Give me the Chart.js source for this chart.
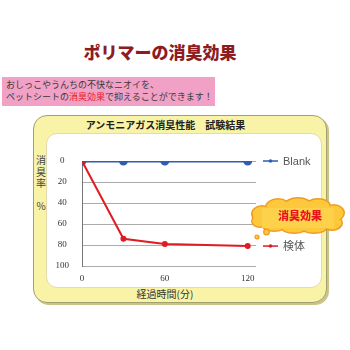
<!DOCTYPE html>
<html><head><meta charset="utf-8">
<script src="https://cdn.jsdelivr.net/npm/chart.js@4"></script>
<style>
html,body{margin:0;padding:0;background:#fff;}
#wrap{position:relative;width:350px;height:350px;overflow:hidden;font-family:"Noto Sans CJK JP","Noto Sans",sans-serif;}
.abs{position:absolute;}
#title{left:0;width:320px;top:38px;text-align:center;font-size:17px;font-weight:900;color:#8e1b1f;letter-spacing:0px;line-height:28px;}
#pink{left:2px;top:77px;width:213px;height:29px;background:#f1a0c6;}
#pink div{position:absolute;left:4px;font-size:9px;color:#3a3a3a;line-height:12px;white-space:nowrap;}
#yellow{left:33px;top:115px;width:292px;height:186px;background:#f8f3a6;border:1.5px solid #a3a070;border-radius:14px;box-shadow:2px 2px 0 #c9c58a;}
#inner{left:46px;top:133px;width:274px;height:153px;background:#fff;border:1px solid #e3dcb0;border-radius:11px;}
#ctitle{left:33px;width:265px;top:117px;text-align:center;font-size:10px;font-weight:700;color:#222;line-height:16px;}
#ytitle{left:35px;top:154px;width:12px;font-size:10px;color:#444;line-height:11.5px;text-align:center;}
#xtitle{left:100px;width:130px;top:287px;text-align:center;font-size:10px;color:#333;line-height:14px;}
#cv{position:absolute;left:0;top:0;}
#cloud{left:248px;top:196px;}
</style></head>
<body><div id="wrap">
<div id="title" class="abs">ポリマーの消臭効果</div>
<div id="pink" class="abs"><div style="top:2px">おしっこやうんちの不快なニオイを、</div><div style="top:14px">ペットシートの<span style="color:#e8202a">消臭効果</span>で抑えることができます！</div></div>
<div id="yellow" class="abs"></div>
<div id="inner" class="abs"></div>
<div id="ctitle" class="abs">アンモニアガス消臭性能　試験結果</div>
<div id="ytitle" class="abs">消<br>臭<br>率<br><br>%</div>
<div id="xtitle" class="abs">経過時間(分)</div>
<canvas id="cv" width="350" height="350"></canvas>
<svg id="cloud" class="abs" width="100" height="46" viewBox="0 0 100 46">
<g fill="#f39a1f">
<ellipse cx="14" cy="18" rx="11" ry="9"/><ellipse cx="30" cy="11" rx="13" ry="9"/><ellipse cx="50" cy="9" rx="14" ry="8"/><ellipse cx="70" cy="10" rx="13" ry="8"/><ellipse cx="86" cy="17" rx="11" ry="9"/><ellipse cx="84" cy="27" rx="11" ry="8"/><ellipse cx="66" cy="31" rx="14" ry="7"/><ellipse cx="46" cy="31" rx="14" ry="7"/><ellipse cx="26" cy="29" rx="13" ry="7"/><ellipse cx="12" cy="25" rx="9" ry="7"/>
</g>
<g fill="#fcc83c">
<ellipse cx="14" cy="18" rx="9.5" ry="7.5"/><ellipse cx="30" cy="11" rx="11.5" ry="7.5"/><ellipse cx="50" cy="9" rx="12.5" ry="6.5"/><ellipse cx="70" cy="10" rx="11.5" ry="6.5"/><ellipse cx="86" cy="17" rx="9.5" ry="7.5"/><ellipse cx="84" cy="27" rx="9.5" ry="6.5"/><ellipse cx="66" cy="31" rx="12.5" ry="5.5"/><ellipse cx="46" cy="31" rx="12.5" ry="5.5"/><ellipse cx="26" cy="29" rx="11.5" ry="5.5"/><ellipse cx="12" cy="25" rx="7.5" ry="5.5"/><rect x="14" y="12" width="72" height="20" fill="#fdd24a"/>
</g>
<text x="52" y="24" text-anchor="middle" font-size="11" font-weight="900" fill="#e8151d" font-family="Noto Sans CJK JP">消臭効果</text>
<circle cx="18.5" cy="36" r="2.8" fill="#fcc83c" stroke="#f39a1f" stroke-width="1.2"/>
<circle cx="9" cy="41" r="2" fill="#fcc83c" stroke="#f39a1f" stroke-width="1.2"/>
</svg>
</div>
<script>
const xValues = [0, 30, 60, 120];
const blankValues = [0, 0, 0, 0];
const sampleValues = [0, 74, 79, 81];
const seriesNames = ['Blank', '検体'];
const xTickValues = [0, 60, 120];
const yTickValues = [0, 20, 40, 60, 80, 100];

const toPts = (vals) => xValues.map((x, i) => ({x: x, y: vals[i]}));

const sideLegend = {
  id: 'sideLegend',
  afterDraw(chart) {
    const ctx = chart.ctx;
    const ys = chart.scales.y;
    chart.data.datasets.forEach((ds) => {
      const last = ds.data[ds.data.length - 1].y;
      const y = ys.getPixelForValue(last);
      ctx.save();
      ctx.strokeStyle = ds.borderColor;
      ctx.lineWidth = 1.5;
      ctx.beginPath(); ctx.moveTo(263, y); ctx.lineTo(278, y); ctx.stroke();
      ctx.fillStyle = ds.borderColor;
      ctx.beginPath(); ctx.arc(270.5, y, 1.8, 0, Math.PI * 2); ctx.fill();
      ctx.fillStyle = '#555';
      ctx.font = '11px "Liberation Sans","Noto Sans CJK JP",sans-serif';
      ctx.textBaseline = 'middle';
      ctx.fillText(ds.label, 283, y + 1);
      ctx.restore();
    });
  }
};

new Chart(document.getElementById('cv'), {
  type: 'line',
  data: {
    datasets: [
      {label: seriesNames[0], data: toPts(blankValues), borderColor: '#2f5db3', backgroundColor: '#2f5db3', borderWidth: 3, pointRadius: 3, pointHoverRadius: 3, order: 1},
      {label: seriesNames[1], data: toPts(sampleValues), borderColor: '#e01b22', backgroundColor: '#e01b22', borderWidth: 2, pointRadius: 2, pointHoverRadius: 2, order: 0}
    ]
  },
  options: {
    responsive: false,
    animation: false,
    events: [],
    layout: {padding: {left: 50, right: 94, top: 161, bottom: 64}},
    plugins: {legend: {display: false}, tooltip: {enabled: false}, title: {display: false}},
    scales: {
      x: {
        type: 'linear', min: 0, max: 126,
        afterBuildTicks: (s) => { s.ticks = xTickValues.map(v => ({value: v})); },
        afterFit: (s) => { s.height = 20; },
        grid: {display: false, drawTicks: false},
        border: {display: false},
        ticks: {padding: 7, color: '#333', font: {family: '"Liberation Serif", serif', size: 9}, maxRotation: 0}
      },
      y: {
        min: 0, max: 100, reverse: true,
        afterBuildTicks: (s) => { s.ticks = yTickValues.map(v => ({value: v})); },
        afterFit: (s) => { s.width = 32; },
        grid: {color: '#ababab', lineWidth: 1, drawTicks: false},
        border: {display: true, color: '#777', width: 1},
        ticks: {padding: 13, crossAlign: 'center', color: '#333', font: {family: '"Liberation Serif", serif', size: 9}}
      }
    }
  },
  plugins: [sideLegend]
});
</script>
</body></html>
